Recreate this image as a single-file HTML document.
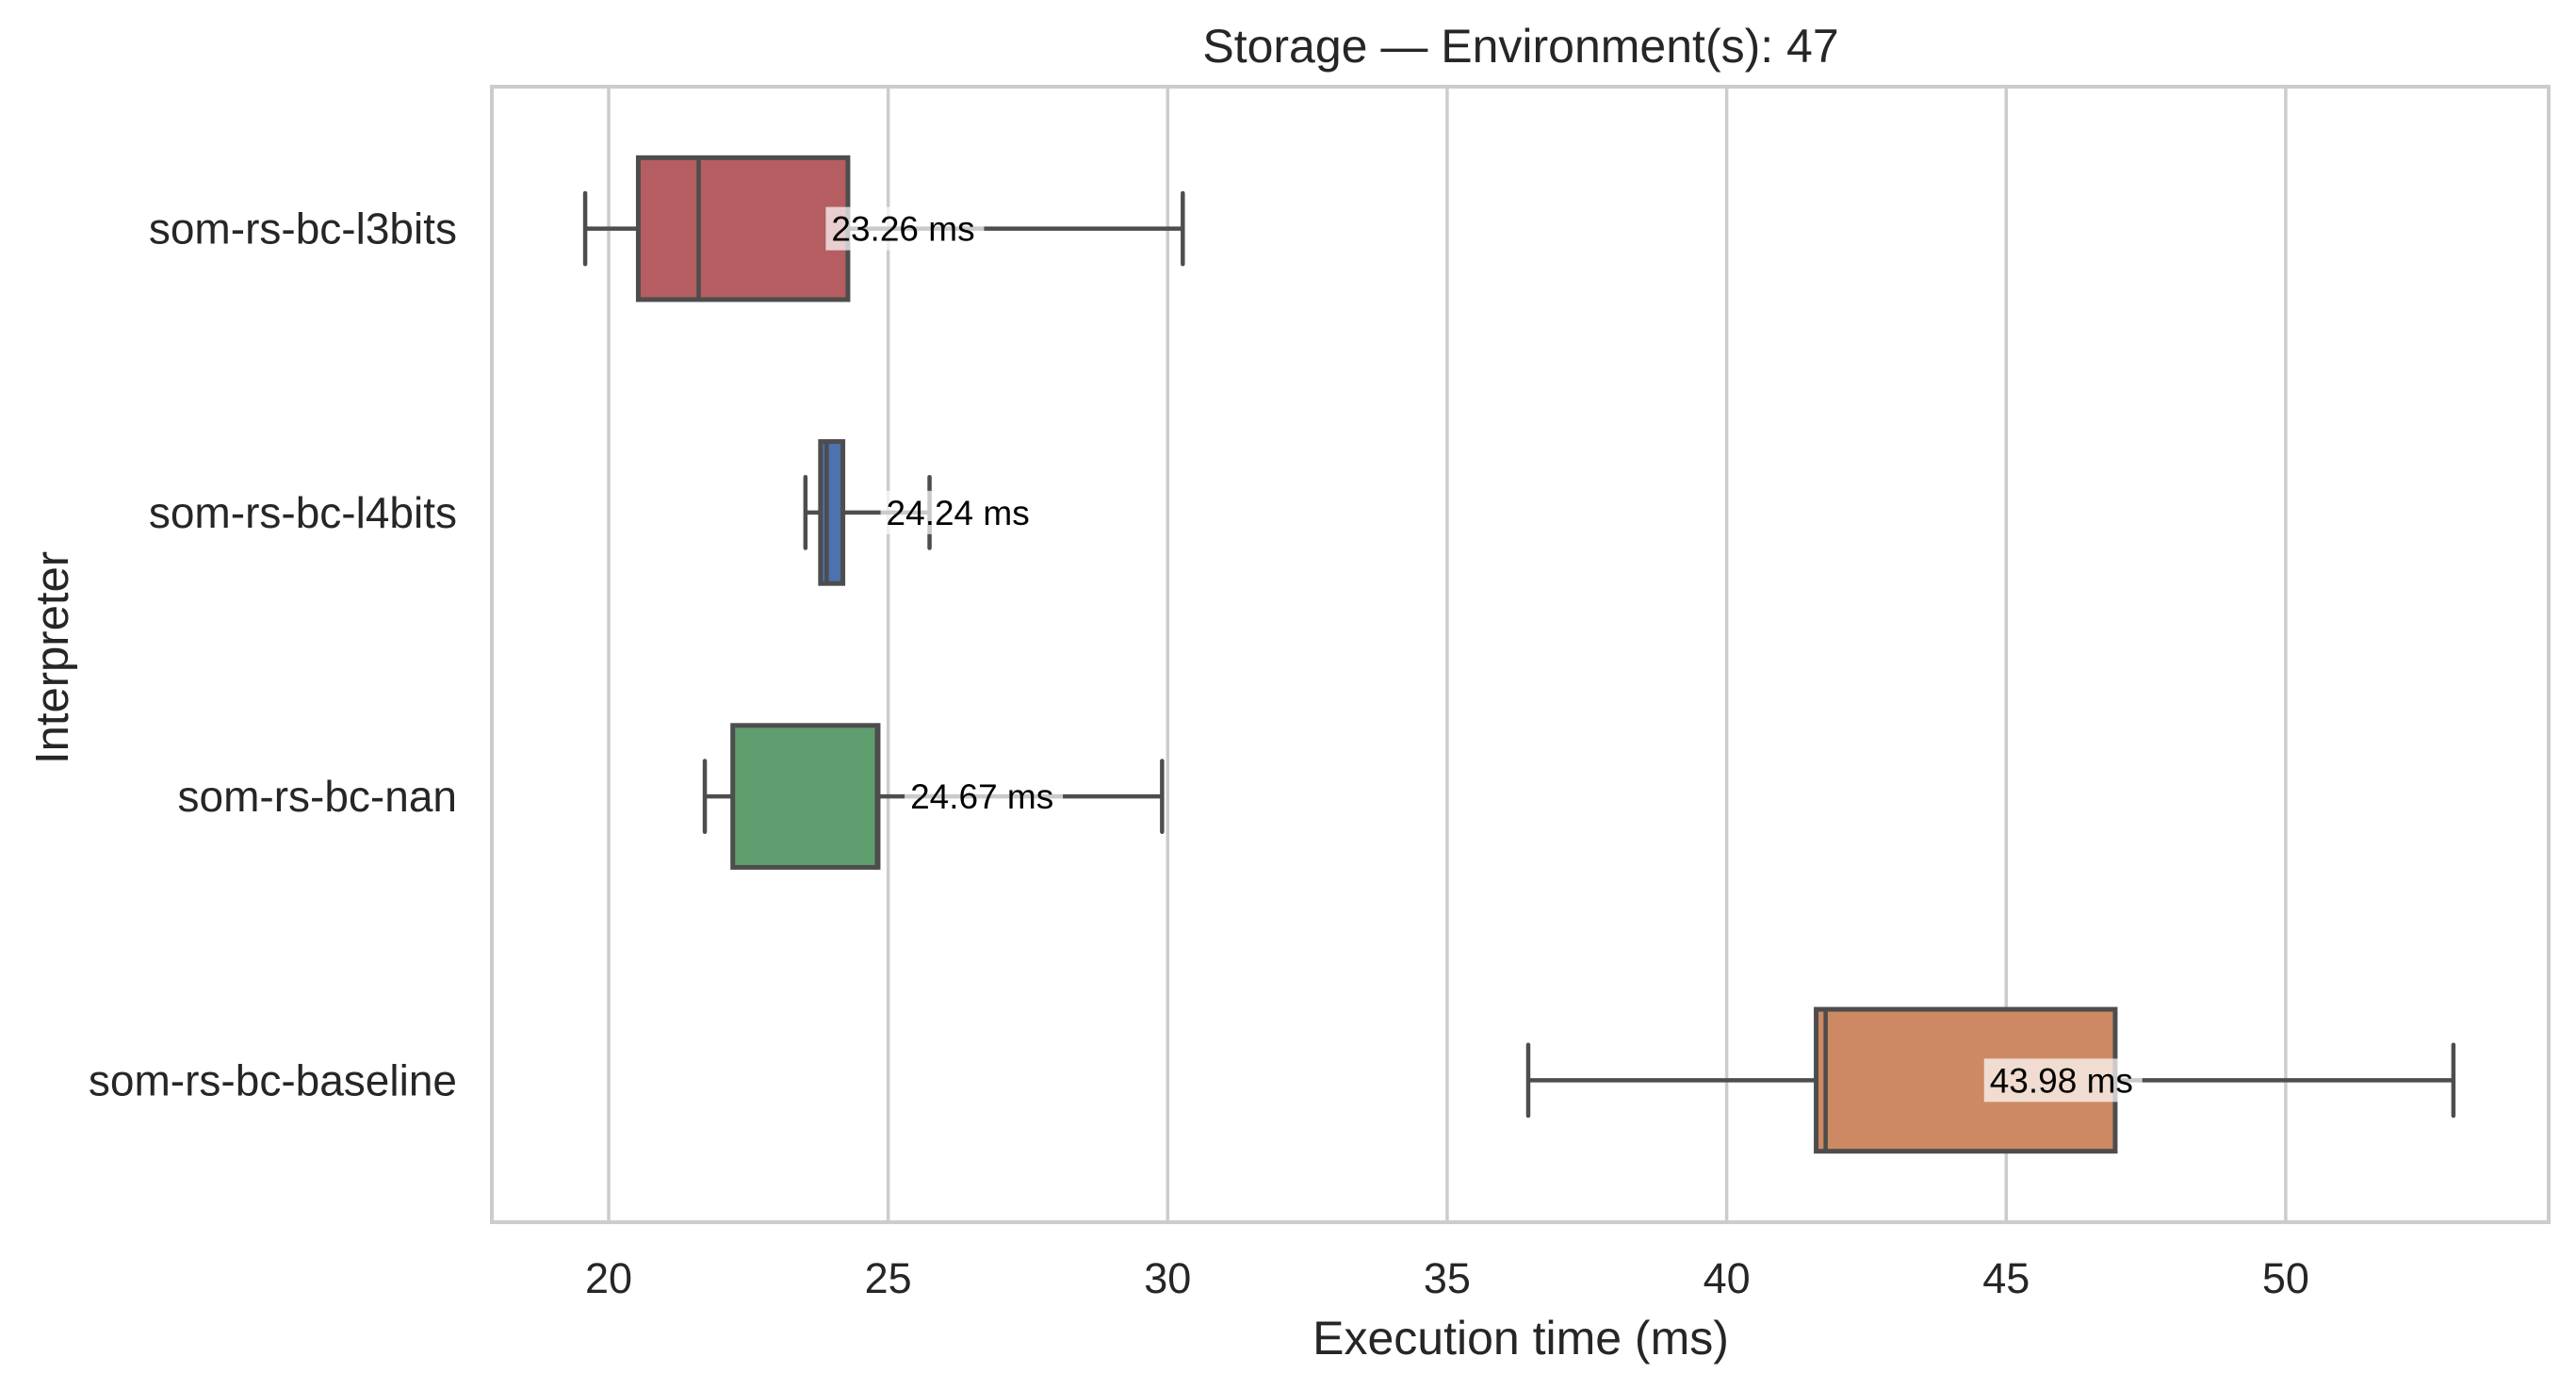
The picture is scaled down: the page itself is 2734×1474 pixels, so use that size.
<!DOCTYPE html>
<html><head><meta charset="utf-8"><style>
html,body{margin:0;padding:0;background:#fff;}
svg{display:block;font-family:"Liberation Sans",sans-serif;}
</style></head><body>
<svg id="chart" width="2734" height="1474" viewBox="0 0 2734 1474" xmlns="http://www.w3.org/2000/svg">
<rect x="0" y="0" width="2734" height="1474" fill="#fff"/>
<g id="grid"></g>
<g id="boxes"></g>
<rect x="522" y="92" width="2183" height="1205" fill="none" stroke="#cccccc" stroke-width="4"/>
<g id="xticks"></g>
<g id="yticks"></g>
<text x="1614" y="66" text-anchor="middle" font-size="50" fill="#262626">Storage — Environment(s): 47</text>
<text x="1614" y="1437" text-anchor="middle" font-size="50" fill="#262626">Execution time (ms)</text>
<text x="0" y="0" transform="translate(72,698) rotate(-90)" text-anchor="middle" font-size="49" fill="#262626">Interpreter</text>
</svg>
<script>
const categories = ["som-rs-bc-l3bits","som-rs-bc-l4bits","som-rs-bc-nan","som-rs-bc-baseline"];
const whiskerLow = [19.58, 23.52, 21.72, 36.45];
const q1 = [20.53, 23.79, 22.22, 41.60];
const median = [21.61, 23.90, 24.80, 41.77];
const q3 = [24.28, 24.19, 24.82, 46.95];
const whiskerHigh = [30.27, 25.74, 29.90, 53.00];
const means = [23.26, 24.24, 24.67, 43.98];
const colors = ["#b55d60","#4c72b0","#5f9e6e","#cc8963"];
const xTicks = [20,25,30,35,40,45,50];

const NS = "http://www.w3.org/2000/svg";
const L = 522, R = 2705, T = 92, B = 1297;
function xs(v){ return 646 + (v - 20) * 59.33; }
const band = (B - T) / categories.length;
function yc(i){ return T + (i + 0.5) * band; }
function mk(tag, attrs, parent){
  const e = document.createElementNS(NS, tag);
  for (const k in attrs) e.setAttribute(k, attrs[k]);
  parent.appendChild(e);
  return e;
}
const grid = document.getElementById('grid');
const xt = document.getElementById('xticks');
xTicks.forEach(t => {
  const g = mk('line', {x1: xs(t), x2: xs(t), y1: T, y2: B, stroke: '#cccccc', 'stroke-width': 3.5}, grid);
  
  
  const lab = mk('text', {x: xs(t), y: 1372, 'text-anchor': 'middle', 'font-size': 45, fill: '#262626'}, xt);
  lab.textContent = t;
  
  
});
const yt = document.getElementById('yticks');
const boxes = document.getElementById('boxes');
const ec = '#4d4d4d', lw = 4.5;
categories.forEach((c, i) => {
  const y = yc(i), hh = band * 0.25, ch = band * 0.125;
  const lab = mk('text', {x: 485, y: y + 16, 'text-anchor': 'end', 'font-size': 46, fill: '#262626'}, yt);
  lab.textContent = c;
  
  
  const g = mk('g', {}, boxes);
  
  
  const w1 = mk('line', {x1: xs(whiskerLow[i]), x2: xs(q1[i]), y1: y, y2: y, stroke: ec, 'stroke-width': lw}, g);
  
  
  const w2 = mk('line', {x1: xs(q3[i]), x2: xs(whiskerHigh[i]), y1: y, y2: y, stroke: ec, 'stroke-width': lw}, g);
  
  
  const c1 = mk('line', {x1: xs(whiskerLow[i]), x2: xs(whiskerLow[i]), y1: y - ch, y2: y + ch, stroke: ec, 'stroke-width': lw, 'stroke-linecap': 'round'}, g);
  
  
  const c2 = mk('line', {x1: xs(whiskerHigh[i]), x2: xs(whiskerHigh[i]), y1: y - ch, y2: y + ch, stroke: ec, 'stroke-width': lw, 'stroke-linecap': 'round'}, g);
  
  
  const r = mk('rect', {x: xs(q1[i]), y: y - hh, width: xs(q3[i]) - xs(q1[i]), height: 2 * hh, fill: colors[i], stroke: ec, 'stroke-width': 5}, g);
  
  
  const m = mk('line', {x1: xs(median[i]), x2: xs(median[i]), y1: y - hh, y2: y + hh, stroke: ec, 'stroke-width': lw}, g);
  
  
  const tx = xs(means[i]) + 43;
  const bg = mk('rect', {x: tx - 6, y: y - 23, width: 168, height: 46, fill: '#ffffff', 'fill-opacity': 0.7}, g);
  
  
  const t = mk('text', {x: tx, y: y + 13, 'font-size': 37, fill: '#000'}, g);
  t.textContent = means[i].toFixed(2) + ' ms';
  
  
});
</script>
</body></html>
